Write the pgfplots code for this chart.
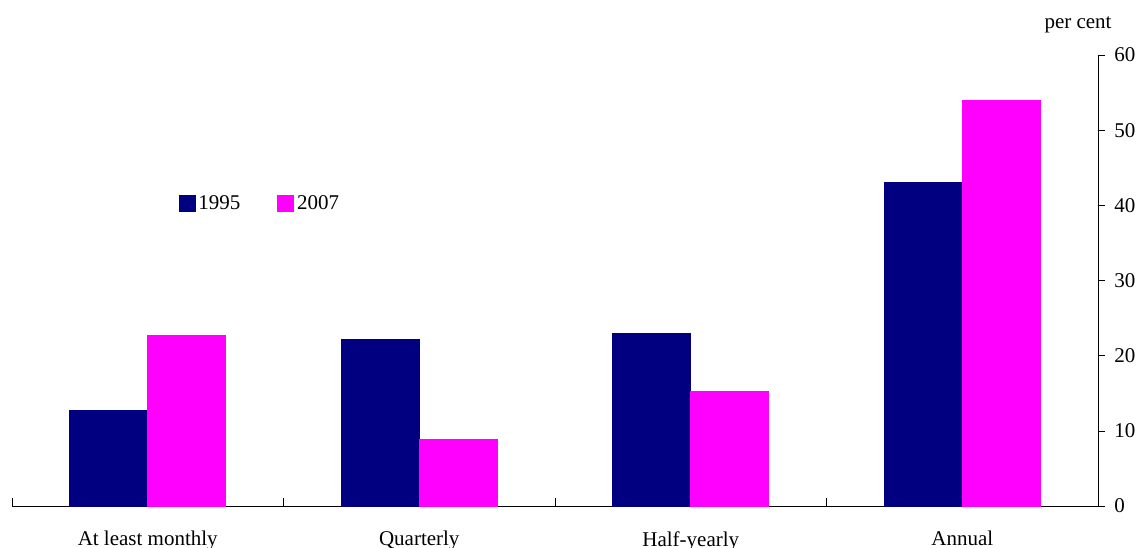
\documentclass[border=0pt]{standalone}
\usepackage{fontspec}
\setmainfont{Liberation Serif}
\usepackage{pgfplots}
\pgfplotsset{compat=1.18}
\definecolor{cnavy}{RGB}{0,0,128}
\definecolor{cmag}{RGB}{255,0,255}
\begin{document}
\fontsize{10.5}{12}\selectfont
\begin{tikzpicture}
\begin{axis}[
  at={(0,0)}, anchor=south west,
  scale only axis, width=543pt, height=225.5pt,
  ybar=0pt, bar width=39pt,
  xmin=-0.5, xmax=3.5, ymin=0, ymax=60,
  axis x line*=bottom, axis y line*=right,
  xtick={0,1,2,3},
  xticklabels={At least monthly,Quarterly,Half-yearly,Annual},
  minor xtick={-0.5,0.5,1.5,2.5,3.5},
  x tick style={draw=none},
  minor x tick style={draw=black},
  minor tick length=4pt,
  xtick align=inside,
  ytick={0,10,...,60},
  ytick align=outside, major tick length=3.5pt,
  y tick style={black},
  xticklabel style={yshift=-9pt},
  yticklabel style={xshift=1pt},
  tick label style={font=\fontsize{10.5}{12}\selectfont},
  /pgf/number format/assume math mode=true,
  axis line style={black},
  legend columns=2,
  legend style={draw=none, fill=none, at={(rel axis cs:0.153,0.670)}, anchor=west,
    font=\fontsize{10.5}{12}\selectfont, inner sep=0pt,
    /tikz/every even column/.append style={column sep=17pt},
    nodes={inner sep=1.5pt}},
  legend image code/.code={\fill[#1] (0pt,-4pt) rectangle (8pt,4pt);},
  clip=false,
]
\addplot[fill=cnavy, draw=cnavy] coordinates {(0,12.7) (1,22.1) (2,23.0) (3,43.0)};
\addplot[fill=cmag, draw=cmag] coordinates {(0,22.7) (1,8.9) (2,15.3) (3,53.9)};
\legend{1995,2007}
\node at (rel axis cs:0.9816,1.068) {per cent};
\end{axis}
\pgfresetboundingbox
\useasboundingbox (-6pt,-20.5pt) rectangle (563.5pt,253pt);
\end{tikzpicture}
\end{document}
